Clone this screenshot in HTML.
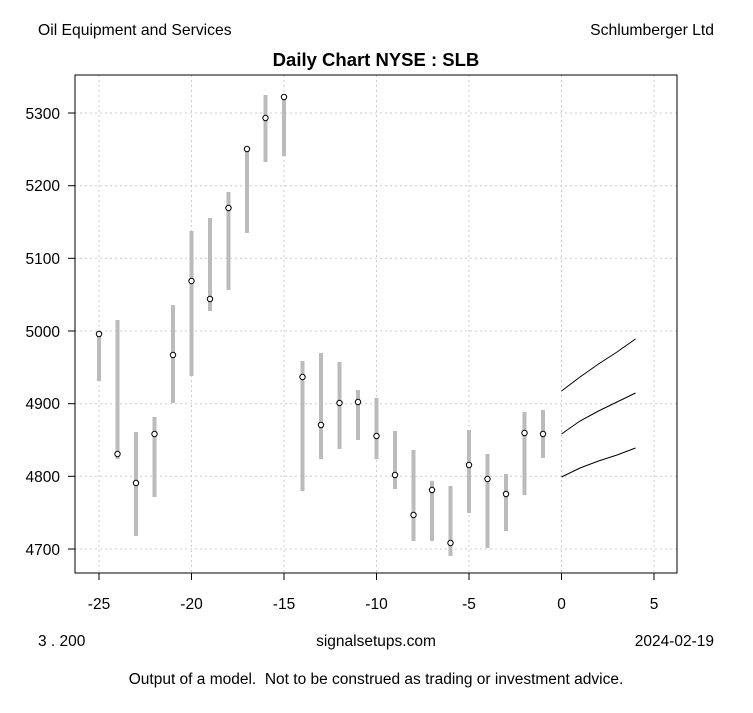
<!DOCTYPE html>
<html><head><meta charset="utf-8"><style>
body{margin:0;background:#fff}
svg text{font-family:"Liberation Sans",Arial,sans-serif}
</style></head><body>
<svg width="753" height="708" xmlns="http://www.w3.org/2000/svg">
<rect width="753" height="708" fill="#fff"/>
<text x="38" y="35" font-size="15.7">Oil Equipment and Services</text>
<text x="714" y="35" font-size="15.7" text-anchor="end">Schlumberger Ltd</text>
<text x="376" y="66" font-size="18.5" font-weight="bold" text-anchor="middle">Daily Chart NYSE : SLB</text>
<g stroke="#ccc" stroke-dasharray="2,3" stroke-width="1">
<line x1="99" y1="75" x2="99" y2="573"/><line x1="191.5" y1="75" x2="191.5" y2="573"/><line x1="284" y1="75" x2="284" y2="573"/><line x1="376.5" y1="75" x2="376.5" y2="573"/><line x1="469" y1="75" x2="469" y2="573"/><line x1="561.5" y1="75" x2="561.5" y2="573"/><line x1="654" y1="75" x2="654" y2="573"/>
<line x1="75" y1="113" x2="677" y2="113"/><line x1="75" y1="185.7" x2="677" y2="185.7"/><line x1="75" y1="258.3" x2="677" y2="258.3"/><line x1="75" y1="331" x2="677" y2="331"/><line x1="75" y1="403.7" x2="677" y2="403.7"/><line x1="75" y1="476.3" x2="677" y2="476.3"/><line x1="75" y1="549" x2="677" y2="549"/>
</g>
<rect x="75" y="75" width="602" height="498" fill="none" stroke="#000"/>
<g stroke="#000">
<line x1="99" y1="573" x2="654" y2="573"/>
<line x1="99" y1="573" x2="99" y2="580"/><line x1="191.5" y1="573" x2="191.5" y2="580"/><line x1="284" y1="573" x2="284" y2="580"/><line x1="376.5" y1="573" x2="376.5" y2="580"/><line x1="469" y1="573" x2="469" y2="580"/><line x1="561.5" y1="573" x2="561.5" y2="580"/><line x1="654" y1="573" x2="654" y2="580"/>
<line x1="75" y1="113" x2="75" y2="549"/>
<line x1="68" y1="113" x2="75" y2="113"/><line x1="68" y1="185.7" x2="75" y2="185.7"/><line x1="68" y1="258.3" x2="75" y2="258.3"/><line x1="68" y1="331" x2="75" y2="331"/><line x1="68" y1="403.7" x2="75" y2="403.7"/><line x1="68" y1="476.3" x2="75" y2="476.3"/><line x1="68" y1="549" x2="75" y2="549"/>
</g>
<g font-size="15.5" text-anchor="middle">
<text x="99" y="609">-25</text><text x="191.5" y="609">-20</text><text x="284" y="609">-15</text><text x="376.5" y="609">-10</text><text x="469" y="609">-5</text><text x="561.5" y="609">0</text><text x="654" y="609">5</text>
</g>
<g font-size="15.5" text-anchor="end">
<text x="60" y="119">5300</text><text x="60" y="191">5200</text><text x="60" y="264">5100</text><text x="60" y="337">5000</text><text x="60" y="409">4900</text><text x="60" y="482">4800</text><text x="60" y="555">4700</text>
</g>
<g stroke="#bbb" stroke-width="4">
<line x1="99" y1="334" x2="99" y2="381"/>
<line x1="117.5" y1="320" x2="117.5" y2="459"/>
<line x1="136" y1="432" x2="136" y2="536"/>
<line x1="154.5" y1="417" x2="154.5" y2="497"/>
<line x1="173" y1="305" x2="173" y2="403"/>
<line x1="191.5" y1="231" x2="191.5" y2="376"/>
<line x1="210" y1="218" x2="210" y2="311"/>
<line x1="228.5" y1="192" x2="228.5" y2="290"/>
<line x1="247" y1="149" x2="247" y2="233"/>
<line x1="265.5" y1="95" x2="265.5" y2="162"/>
<line x1="284" y1="95" x2="284" y2="156"/>
<line x1="302.5" y1="361" x2="302.5" y2="491"/>
<line x1="321" y1="353" x2="321" y2="459"/>
<line x1="339.5" y1="362" x2="339.5" y2="449"/>
<line x1="358" y1="390" x2="358" y2="440"/>
<line x1="376.5" y1="398" x2="376.5" y2="459"/>
<line x1="395" y1="431" x2="395" y2="489"/>
<line x1="413.5" y1="450" x2="413.5" y2="541"/>
<line x1="432" y1="481" x2="432" y2="541"/>
<line x1="450.5" y1="486" x2="450.5" y2="556"/>
<line x1="469" y1="430" x2="469" y2="513"/>
<line x1="487.5" y1="454" x2="487.5" y2="548"/>
<line x1="506" y1="474" x2="506" y2="531"/>
<line x1="524.5" y1="412" x2="524.5" y2="495"/>
<line x1="543" y1="410" x2="543" y2="458"/>
</g>
<g fill="#fff" stroke="#000" stroke-width="1">
<circle cx="99" cy="334" r="2.7"/><circle cx="117.5" cy="454" r="2.7"/><circle cx="136" cy="483" r="2.7"/><circle cx="154.5" cy="434" r="2.7"/><circle cx="173" cy="355" r="2.7"/><circle cx="191.5" cy="281" r="2.7"/><circle cx="210" cy="299" r="2.7"/><circle cx="228.5" cy="208" r="2.7"/><circle cx="247" cy="149" r="2.7"/><circle cx="265.5" cy="118" r="2.7"/><circle cx="284" cy="97" r="2.7"/><circle cx="302.5" cy="377" r="2.7"/><circle cx="321" cy="425" r="2.7"/><circle cx="339.5" cy="403" r="2.7"/><circle cx="358" cy="402" r="2.7"/><circle cx="376.5" cy="436" r="2.7"/><circle cx="395" cy="475" r="2.7"/><circle cx="413.5" cy="515" r="2.7"/><circle cx="432" cy="490" r="2.7"/><circle cx="450.5" cy="543" r="2.7"/><circle cx="469" cy="465" r="2.7"/><circle cx="487.5" cy="479" r="2.7"/><circle cx="506" cy="494" r="2.7"/><circle cx="524.5" cy="433" r="2.7"/><circle cx="543" cy="434" r="2.7"/>
</g>
<g fill="none" stroke="#000" stroke-width="1">
<polyline points="561.5,391 580,377 598.5,364 617,352 635.5,339"/>
<polyline points="561.5,434 580,421 598.5,411 617,402 635.5,393"/>
<polyline points="561.5,477 580,468 598.5,461 617,455 635.5,448"/>
</g>
<text x="38" y="646" font-size="15.5">3 . 200</text>
<text x="376" y="646" font-size="15.5" text-anchor="middle">signalsetups.com</text>
<text x="714" y="646" font-size="15.5" text-anchor="end">2024-02-19</text>
<text x="376" y="684" font-size="15.5" text-anchor="middle" xml:space="preserve">Output of a model.&#160; Not to be construed as trading or investment advice.</text>
</svg>
</body></html>
